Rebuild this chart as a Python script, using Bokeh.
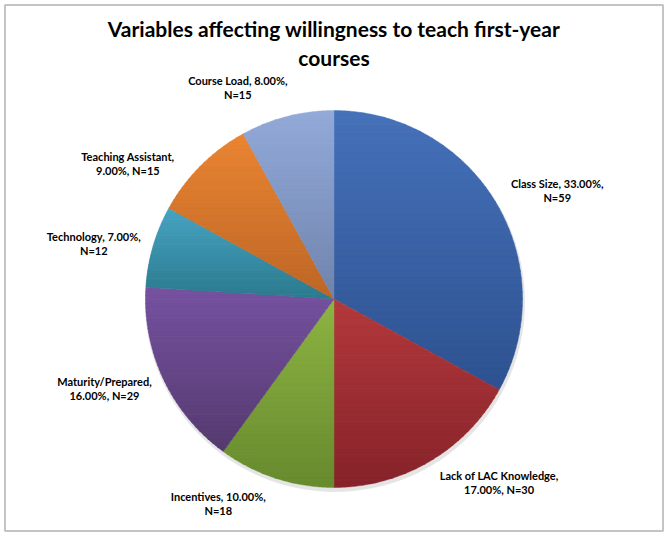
import numpy as np
from bokeh.plotting import figure
from bokeh.models import Range1d
from bokeh.core.properties import value
from bokeh.embed import file_html
from bokeh.resources import INLINE

# ---- data ----
categories = ["Class Size", "Lack of LAC Knowledge", "Incentives", "Maturity/Prepared",
              "Technology", "Teaching Assistant", "Course Load"]
percents = [33.0, 17.0, 10.0, 16.0, 7.0, 9.0, 8.0]
counts = [59, 30, 18, 29, 12, 15, 15]
title_lines = ["Variables affecting willingness to teach first-year", "courses"]

# ---- style ----
colors_top = ["#4571BA", "#B3393C", "#8DB443", "#7652A1", "#47A4C3", "#EA8532", "#93AADA"]
colors_bottom = ["#2E5290", "#86232A", "#678A2E", "#553A6F", "#2C7A8E", "#BD6626", "#6F84AC"]
label_shift_deg = [4.6, -11.4, 11.5, 3.8, -3.2, -11.6, -10.1]
FONT = "Lato"

W, H = 667, 536
cx, cy, R = 333.5, H - 298.5, 188.5

p = figure(width=W, height=H, x_range=Range1d(0, W), y_range=Range1d(0, H),
           output_backend="svg", toolbar_location=None,
           x_axis_location=None, y_axis_location=None, min_border=0)
p.grid.visible = False
p.outline_line_color = None
p.background_fill_color = "white"
p.border_fill_color = "white"

# chart border
p.quad(left=[4.5], right=[662.5], bottom=[H - 530.5], top=[H - 4.5],
       fill_color=None, line_color="#C4C4C4", line_width=2)

# soft shadow
p.circle(x=[cx + 1], y=[cy - 3], radius=R + 1.5, fill_color="black", fill_alpha=0.10, line_color=None)


def hex2rgb(h):
    h = h.lstrip("#")
    return np.array([int(h[i:i + 2], 16) for i in (0, 2, 4)], dtype=float)


def rgb2hex(c):
    c = np.clip(np.round(c), 0, 255).astype(int)
    return "#%02x%02x%02x" % tuple(c)


def clip(poly, y0, keep_above):
    out = []
    n = len(poly)
    for i in range(n):
        a = poly[i]
        b = poly[(i + 1) % n]
        ina = a[1] >= y0 if keep_above else a[1] <= y0
        inb = b[1] >= y0 if keep_above else b[1] <= y0
        if ina:
            out.append(a)
        if ina != inb:
            t = (y0 - a[1]) / (b[1] - a[1])
            out.append((a[0] + t * (b[0] - a[0]), y0))
    return out


total = sum(percents)
cum = np.concatenate([[0], np.cumsum(percents)]) / total * 360.0

xs_all, ys_all, fill_all = [], [], []
NB = 40
for i in range(len(categories)):
    t1, t2 = cum[i], cum[i + 1]
    th = np.radians(np.linspace(t1, t2, max(4, int((t2 - t1) * 2))))
    poly = [(cx, cy)] + [(cx + R * np.sin(t), cy + R * np.cos(t)) for t in th]
    ymin = min(q[1] for q in poly)
    ymax = max(q[1] for q in poly)
    ctop, cbot = hex2rgb(colors_top[i]), hex2rgb(colors_bottom[i])
    edges = np.linspace(ymax, ymin, NB + 1)
    for k in range(NB):
        hi, lo = edges[k], edges[k + 1]
        pc = clip(clip(poly, lo - 0.3, True), hi + 0.3, False)
        if len(pc) < 3:
            continue
        f = (k + 0.5) / NB
        col = rgb2hex(ctop * (1 - f) + cbot * f)
        xs_all.append([q[0] for q in pc])
        ys_all.append([q[1] for q in pc])
        fill_all.append(col)

p.patches(xs=xs_all, ys=ys_all, fill_color=fill_all, line_color=fill_all, line_width=0.4)

# labels
CW, LH, GAP = 5.0, 14.0, 11.0
l1, l2, lx, ly = [], [], [], []
for i, cat in enumerate(categories):
    txt_pct = f"{percents[i]:.2f}%"
    if len(cat) > 12:
        a, b = f"{cat},", f"{txt_pct}, N={counts[i]}"
    else:
        a, b = f"{cat}, {txt_pct},", f"N={counts[i]}"
    w = max(len(a), len(b)) * CW
    h = 2 * LH
    ang = np.radians((cum[i] + cum[i + 1]) / 2 + label_shift_deg[i])
    dx, dy = np.sin(ang), np.cos(ang)
    s = abs(dx) * w / 2 + abs(dy) * h / 2
    d = R + GAP + s
    x0, y0 = cx + d * dx, cy + d * dy
    l1.append(a); l2.append(b)
    lx.append(x0); ly.append(y0)

p.text(x=lx, y=[v + LH / 2 for v in ly], text=l1, text_align="center", text_baseline="middle",
       text_font=value(FONT), text_font_style="bold", text_font_size="11px", text_color="black")
p.text(x=lx, y=[v - LH / 2 for v in ly], text=l2, text_align="center", text_baseline="middle",
       text_font=value(FONT), text_font_style="bold", text_font_size="11px", text_color="black")

# title
p.text(x=[cx, cx], y=[H - 28, H - 57], text=title_lines, text_align="center", text_baseline="middle",
       text_font=value(FONT), text_font_style="bold", text_font_size="21px", text_color="black")

open("out.html", "w").write(file_html(p, INLINE))
